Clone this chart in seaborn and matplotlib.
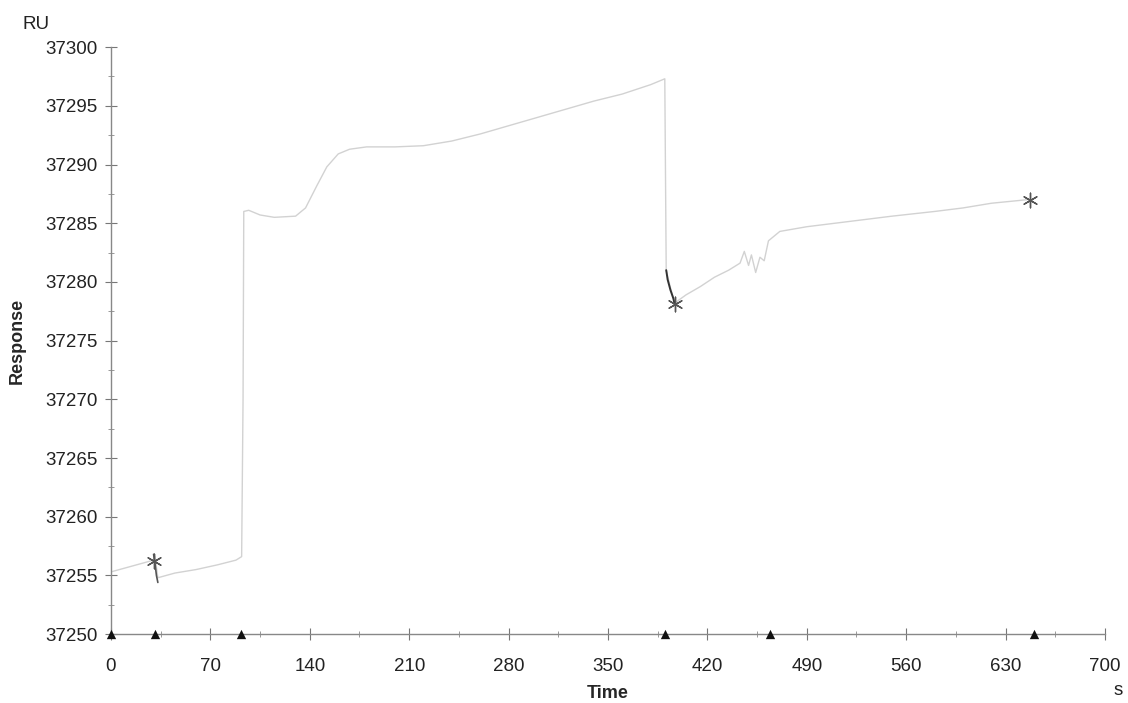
import matplotlib
matplotlib.use("Agg")
import matplotlib.pyplot as plt
import seaborn as sns
import pandas as pd
from matplotlib.ticker import MultipleLocator

sns.set_style("white")
plt.rcParams['font.family'] = ['Liberation Sans', 'DejaVu Sans']

# Sensorgram trace (light grey)
time_s = [0, 15, 30, 31, 33, 45, 60, 75, 88, 92, 93, 93.5, 97, 105, 115, 130, 137,
          145, 152, 160, 168, 180, 200, 220, 240, 260, 280, 300, 320, 340, 360, 380,
          390, 390.5, 391, 394, 397, 405, 415, 425, 435, 443, 446, 449, 451, 454,
          457, 460, 463, 471, 490, 510, 530, 550, 580, 600, 620, 645]
response = [37255.3, 37255.8, 37256.3, 37256.6, 37254.8, 37255.2, 37255.5, 37255.9,
            37256.3, 37256.6, 37270.0, 37286.0, 37286.1, 37285.7, 37285.5, 37285.6,
            37286.3, 37288.2, 37289.8, 37290.9, 37291.3, 37291.5, 37291.5, 37291.6,
            37292.0, 37292.6, 37293.3, 37294.0, 37294.7, 37295.4, 37296.0, 37296.8,
            37297.3, 37289.0, 37281.0, 37279.5, 37278.2, 37278.9, 37279.6, 37280.4,
            37281.0, 37281.6, 37282.6, 37281.4, 37282.3, 37280.8, 37282.1, 37281.8,
            37283.5, 37284.3, 37284.7, 37285.0, 37285.3, 37285.6, 37286.0, 37286.3,
            37286.7, 37287.0]

# Darker injection-artefact segments
dark1_t = [30, 31, 32, 33]
dark1_r = [37256.8, 37256.0, 37255.0, 37254.4]
dark2_t = [391, 392, 394, 396, 397]
dark2_r = [37281.0, 37280.2, 37279.3, 37278.6, 37278.1]

# Report-point markers
star_t = [30, 397, 647]
star_r = [37256.2, 37278.1, 37287.0]

# Event markers on baseline
event_t = [0, 31, 91.5, 390, 464, 650]
event_r = [37250, 37250, 37250, 37250, 37250, 37250]

x_ticks = [0, 70, 140, 210, 280, 350, 420, 490, 560, 630, 700]
y_ticks = [37250, 37255, 37260, 37265, 37270, 37275, 37280, 37285, 37290, 37295, 37300]

fig = plt.figure(figsize=(11.28, 7.03), dpi=100)
ax = fig.add_axes([0.0984, 0.098, 0.8812, 0.835])

df = pd.DataFrame({"t": time_s, "r": response})
sns.lineplot(data=df, x="t", y="r", ax=ax, sort=False, estimator=None,
             color="#d2d2d2", linewidth=1.0)
sns.lineplot(x=dark1_t, y=dark1_r, ax=ax, sort=False, estimator=None,
             color="#555555", linewidth=1.2)
sns.lineplot(x=dark2_t, y=dark2_r, ax=ax, sort=False, estimator=None,
             color="#333333", linewidth=1.4)
sns.scatterplot(x=star_t, y=star_r, ax=ax, marker=(6, 2, 0), s=110,
                color="#555555", linewidth=1.0, zorder=5)
sns.scatterplot(x=event_t, y=event_r, ax=ax, marker="^", s=45,
                color="#111111", linewidth=0, zorder=6, clip_on=False)

ax.set_xlim(0, 700)
ax.set_ylim(37250, 37300)
ax.set_xticks(x_ticks)
ax.set_yticks(y_ticks)
ax.set_xticklabels([str(v) for v in x_ticks])
ax.set_yticklabels([str(v) for v in y_ticks])
ax.xaxis.set_minor_locator(MultipleLocator(35))
ax.yaxis.set_minor_locator(MultipleLocator(2.5))

for side in ["top", "right"]:
    ax.spines[side].set_visible(False)
for side in ["left", "bottom"]:
    ax.spines[side].set_color("#888888")
    ax.spines[side].set_linewidth(1.0)

ax.tick_params(axis="both", which="both", bottom=True, left=True)
ax.tick_params(axis="both", which="major", direction="inout", length=9,
               width=0.8, color="#777777", labelsize=13.5, labelcolor="#222222")
ax.tick_params(axis="x", which="major", pad=13)
ax.tick_params(axis="y", which="major", pad=5)
ax.tick_params(axis="both", which="minor", direction="inout", length=5,
               width=0.7, color="#999999")

ax.set_xlabel("Time", fontsize=13, fontweight="bold", labelpad=7)
ax.set_ylabel("Response", fontsize=13, fontweight="bold", labelpad=14)
fig.text(0.020, 0.965, "RU", fontsize=13.5, color="#222222", ha="left", va="center")
fig.text(0.995, 0.018, "s", fontsize=13.5, color="#222222", ha="right", va="center")

fig.savefig("out.png", dpi=100, facecolor="white")
